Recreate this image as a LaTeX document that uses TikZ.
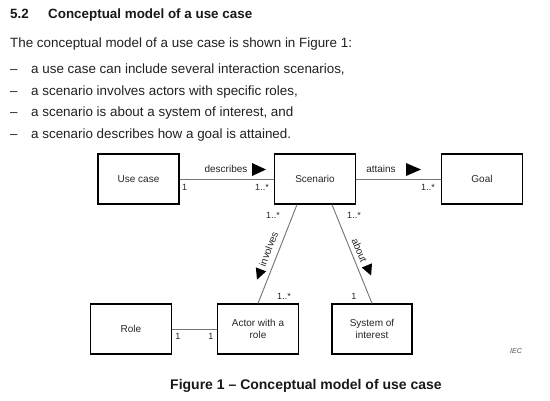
\documentclass[tikz,border=0pt]{standalone}
\usepackage{fontspec}
\setmainfont{Liberation Sans}
\usetikzlibrary{calc}
\begin{document}
\begin{tikzpicture}[x=1pt,y=-1pt,
 box/.style={draw=black, line width=1.2pt, minimum width=81pt, minimum height=50pt, inner sep=1pt, font=\fontsize{10}{12}\selectfont, align=center, text=black!85},
 conn/.style={draw=black!55, line width=0.9pt},
 mult/.style={font=\fontsize{9}{10}\selectfont, inner sep=0pt, text=black!85},
 lbl/.style={font=\fontsize{10}{12}\selectfont, inner sep=0pt, text=black!85},
 body/.style={font=\fontsize{13.4}{16}\selectfont, anchor=base west, inner sep=0pt, text=black!87},
 head/.style={font=\bfseries\fontsize{13.4}{16}\selectfont, anchor=base west, inner sep=0pt, text=black!90}]
\useasboundingbox (0,0) rectangle (550,400);
\fill[white] (0,0) rectangle (550,400);
% header text
\node[head] (num) at (10,18) {5.2};
\node[head] (title) at (48,18) {Conceptual model of a use case};
\node[body] (intro) at (10,47) {The conceptual model of a use case is shown in Figure 1:};
\node[body] (d1) at (10,73) {–};
\node[body] (b1) at (31,73) {a use case can include several interaction scenarios,};
\node[body] (d2) at (10,95.5) {–};
\node[body] (b2) at (31,95.5) {a scenario involves actors with specific roles,};
\node[body] (d3) at (10,116.5) {–};
\node[body] (b3) at (31,116.5) {a scenario is about a system of interest, and};
\node[body] (d4) at (10,138) {–};
\node[body] (b4) at (31,138) {a scenario describes how a goal is attained.};
% boxes
\node[box] (uc) at (138.5,179) {Use case};
\node[box] (sc) at (315,179) {Scenario};
\node[box] (goal) at (482,179) {Goal};
\node[box] (role) at (131,329) {Role};
\node[box] (actor) at (258,329) {Actor with a\\role};
\node[box, minimum width=80pt] (sys) at (372,329) {System of\\interest};
% connectors
\draw[conn] (uc.east) -- (sc.west);
\draw[conn] (sc.east) -- (goal.west);
\draw[conn] ($(sc.south)+(-18,0)$) -- (actor.north);
\draw[conn] ($(sc.south)+(17,0)$) -- (sys.north);
\draw[conn] (role.east) -- (actor.west);
% association labels
\node[lbl] (desc) at (226,169) {describes};
\fill (252,163) -- (252,176) -- (266,169.5) -- cycle;
\node[lbl] (att) at (381,169) {attains};
\fill (406,163) -- (406,176) -- (421,169.5) -- cycle;
\node[lbl, rotate=69] (inv) at (268.5,249) {involves};
\fill[shift={(259,274.5)}, rotate=249] (5.5pt,0) -- (-5.5pt,5.5pt) -- (-5.5pt,-5.5pt) -- cycle;
\node[lbl, rotate=-67.5] (abt) at (359.5,250.5) {about};
\fill[shift={(369,270.5)}, rotate=-67.5] (5.5pt,0) -- (-5.5pt,5.5pt) -- (-5.5pt,-5.5pt) -- cycle;
% multiplicities
\node[mult, anchor=west] (m1) at (182,187) {1};
\node[mult] (m2) at (262,187) {1..*};
\node[mult] (m3) at (428,187) {1..*};
\node[mult] (m4) at (273,215) {1..*};
\node[mult] (m5) at (354,215) {1..*};
\node[mult] (m6) at (284,296) {1..*};
\node[mult] (m7) at (354,296) {1};
\node[mult] (m8) at (178,336) {1};
\node[mult] (m9) at (211,336) {1};
% IEC and caption
\node[font=\itshape\fontsize{7}{8}\selectfont, text=black!70] (iec) at (516,351) {IEC};
\node[font=\bfseries\fontsize{14}{16}\selectfont, anchor=base, text=black!90] (cap) at (306,389) {Figure 1 – Conceptual model of use case};
\end{tikzpicture}
\end{document}
